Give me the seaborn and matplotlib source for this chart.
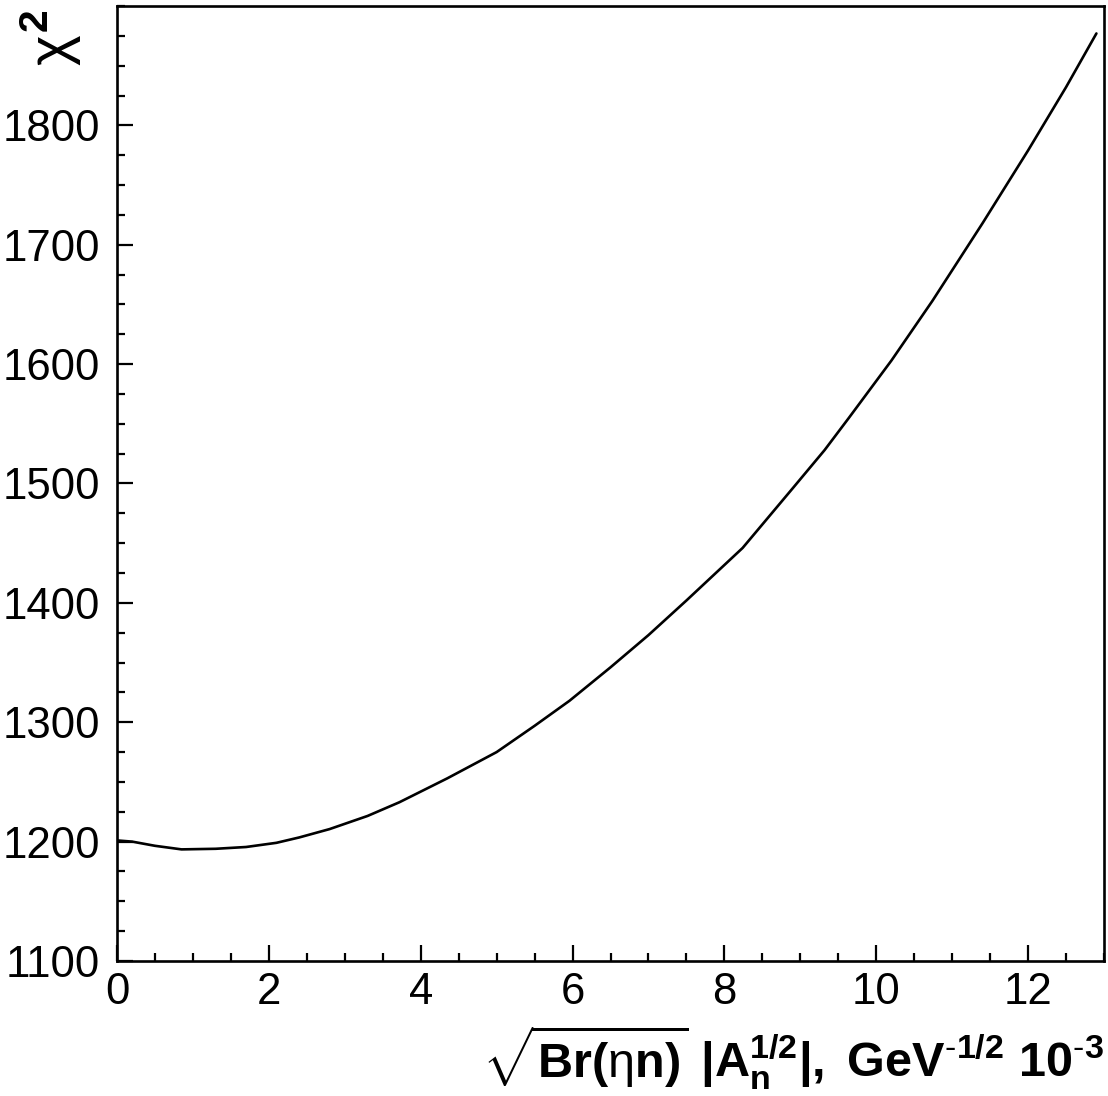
import matplotlib
matplotlib.use("Agg")
import matplotlib.pyplot as plt
import seaborn as sns
import pandas as pd
from matplotlib.ticker import MultipleLocator, FixedLocator

# Data
x_vals = [0.0, 0.2, 0.5, 0.85, 1.3, 1.7, 2.1, 2.4, 2.8, 3.3, 3.72, 4.35, 5.0, 5.5,
          5.96, 6.5, 7.0, 7.5, 8.24, 8.9, 9.32, 9.64, 10.2, 10.74, 11.4, 12.0, 12.5, 12.9]
chi2_vals = [1201, 1200, 1196.5, 1193.5, 1194, 1195.5, 1199, 1203.5, 1210.5, 1221.5,
             1233, 1253, 1275, 1297, 1318, 1346, 1373, 1402, 1446, 1496, 1528, 1555,
             1603, 1653, 1718, 1779, 1832, 1877]
y_major_ticks = [1100, 1200, 1300, 1400, 1500, 1600, 1700, 1800]
x_major_ticks = [0, 2, 4, 6, 8, 10, 12]

df = pd.DataFrame({"x": x_vals, "chi2": chi2_vals})

sns.set_theme(style="ticks")
plt.rcParams['font.family'] = ['Liberation Sans', 'DejaVu Sans']
plt.rcParams['mathtext.fontset'] = 'custom'
plt.rcParams['mathtext.rm'] = 'Liberation Sans'
plt.rcParams['mathtext.it'] = 'Liberation Sans'
plt.rcParams['mathtext.bf'] = 'Liberation Sans:bold'
plt.rcParams['mathtext.sf'] = 'Liberation Sans'
plt.rcParams['text.color'] = 'black'
plt.rcParams['axes.labelcolor'] = 'black'
plt.rcParams['xtick.color'] = 'black'
plt.rcParams['ytick.color'] = 'black'

fig = plt.figure(figsize=(11.08, 10.96), dpi=100)
ax = fig.add_axes([117/1108, 1 - 961/1096, (1104-117)/1108, (961-6)/1096])

sns.lineplot(data=df, x="x", y="chi2", ax=ax, color="black", linewidth=1.9,
             estimator=None, sort=False)

ax.set_xlim(0, 13)
ax.set_ylim(1100, 1900)
ax.xaxis.set_major_locator(FixedLocator(x_major_ticks))
ax.xaxis.set_minor_locator(MultipleLocator(0.5))
ax.yaxis.set_major_locator(FixedLocator(y_major_ticks))
ax.yaxis.set_minor_locator(MultipleLocator(25))

for s in ax.spines.values():
    s.set_visible(True)
    s.set_linewidth(1.9)
    s.set_color("black")

ax.tick_params(axis="both", which="major", direction="in", length=11.5, width=1.6,
               colors="black", labelcolor="black", labelsize=31.5, top=False, right=False)
ax.tick_params(axis="both", which="minor", direction="in", length=5.8, width=1.6,
               colors="black", top=False, right=False)
ax.tick_params(axis="x", which="major", pad=8)
ax.tick_params(axis="y", which="major", pad=12)

ax.set_xlabel(r'$\sqrt{\mathbf{Br(}\eta\mathbf{n)}}\ \mathbf{|A_n^{1/2}|,\ GeV^{\text{-}1/2}\ 10^{\text{-}3}}$',
              fontsize=35, loc="right", color="black")
ax.xaxis.set_label_coords(1.0, -0.137)
ax.xaxis.label.set_horizontalalignment("right")
ax.xaxis.label.set_verticalalignment("bottom")

ax.set_ylabel(r'$\chi^{\mathbf{2}}$', fontsize=42, loc="top", color="black")
ax.yaxis.set_label_coords(-0.033, 0.996)
ax.yaxis.label.set_verticalalignment("bottom")
ax.yaxis.label.set_horizontalalignment("right")

ax.grid(False)
fig.savefig("out.png", dpi=100, facecolor="white")
